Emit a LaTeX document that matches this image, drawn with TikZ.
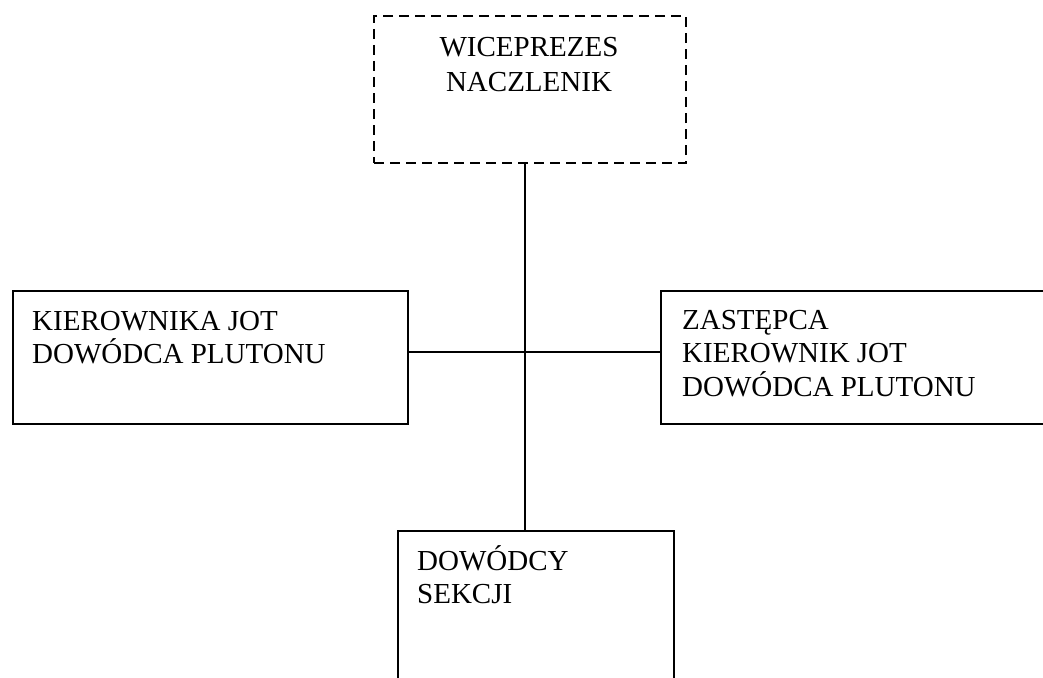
\documentclass[tikz,border=0pt]{standalone}
\usepackage{fontspec}
\setmainfont{Liberation Serif}
\begin{document}
\begin{tikzpicture}[x=1pt,y=-1pt,
  box/.style={draw, line width=1.8pt, rectangle, anchor=north west, inner sep=0pt},
  dashbox/.style={box, line width=2pt, dash pattern=on 10pt off 6pt},
  txt/.style={inner sep=0pt, font=\fontsize{29}{33.5}\selectfont},
  link/.style={line width=1.8pt}]
\useasboundingbox (0,0) rectangle (1043,677);
\clip (0,0) rectangle (1043,677);
\node[dashbox, minimum width=312pt, minimum height=147pt] (top) at (373,15) {};
\node[box, minimum width=395pt, minimum height=133pt] (left) at (12,290) {};
\node[box, minimum width=420pt, minimum height=133pt] (right) at (660,290) {};
\node[box, minimum width=276pt, minimum height=200pt] (bot) at (397,530) {};
\node[txt, align=center, anchor=north, font=\fontsize{29}{35}\selectfont] (toptxt) at (529,37) {WICEPREZES\\NACZLENIK};
\node[txt, align=left, anchor=north west] (lefttxt) at (32,311) {KIEROWNIKA JOT\\DOWÓDCA PLUTONU};
\node[txt, align=left, anchor=north west] (righttxt) at (682,310) {ZASTĘPCA\\KIEROWNIK JOT\\DOWÓDCA PLUTONU};
\node[txt, align=left, anchor=north west] (bottxt) at (417,545) {DOWÓDCY\\SEKCJI};
\coordinate (vx) at (525,0);
\coordinate (hy) at (0,352);
\draw[link] (top.south -| vx) -- (bot.north -| vx);
\draw[link] (left.east |- hy) -- (right.west |- hy);
\end{tikzpicture}
\end{document}
